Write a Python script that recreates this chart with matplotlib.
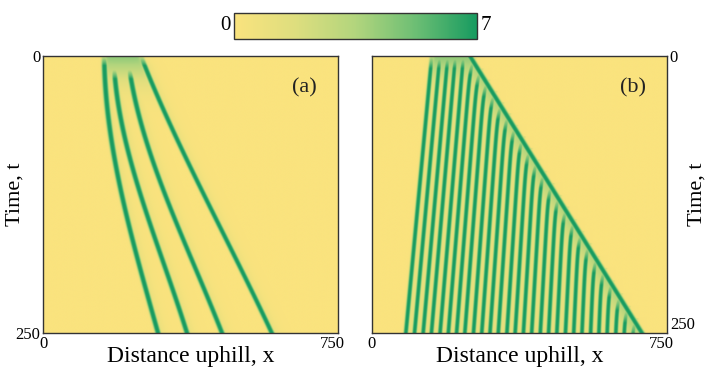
import numpy as np
import matplotlib
matplotlib.use("Agg")
import matplotlib.pyplot as plt
import matplotlib.transforms as mtransforms
from matplotlib.colors import LinearSegmentedColormap

# ---------------- data ----------------
x_range = [0, 750]
t_range = [0, 250]
cbar_range = [0, 7]
panel_labels = ["(a)", "(b)"]
x_label = "Distance uphill, x"
y_label = "Time, t"

# panel (a): four vegetation bands, tracks as (time, position)
a_t1 = [0, 25, 50, 80, 120, 160, 200, 250]
a_x1 = [155, 159, 165, 175, 197, 223, 254, 292]
a_t2 = [12, 25, 50, 80, 120, 160, 200, 250]
a_x2 = [180, 186, 195, 210, 245, 280, 319, 366]
a_t3 = [12, 25, 50, 80, 120, 160, 200, 250]
a_x3 = [218, 228, 243, 263, 305, 351, 397, 455]
a_t4 = [0, 25, 50, 80, 120, 160, 200, 250]
a_x4 = [250, 276, 308, 348, 403, 458, 513, 582]
a_patch = [152, 250]          # initial vegetated patch at t = 0

# panel (b): uphill front, downhill edge, and band positions at t = 250
b_front_t = [0, 250]
b_front_x = [249, 686]
b_back_x = [152, 86]
b_band_x_end = [86, 108, 130, 151, 173, 194, 215, 236, 258, 279, 300, 321,
                343, 364, 385, 406, 428, 449, 470, 492, 513, 534, 556, 577,
                598, 620, 641, 662]
b_band_shift = [66, 22]       # downhill drift over t = 0..250 (first band, last band)

# ---------------- field construction ----------------
xs = np.linspace(x_range[0], x_range[1], 1500)
ts = np.linspace(t_range[0], t_range[1], 600)
X, T = np.meshgrid(xs, ts)
vmax = cbar_range[1]

def band_profile(d, w=8.0, tail=0.3, tail_len=12.0):
    core = np.exp(-np.abs(d / w) ** 3.5)
    tl = np.where(d > 0, tail * np.exp(-d / tail_len), 0.0)
    return np.maximum(core, tl)

def smooth_track(tt, xx):
    c = np.polyfit(tt, xx, 3)
    return np.polyval(c, ts)

# panel (a)
Fa = np.zeros_like(X)
tracks = []
for tt, xx in [(a_t1, a_x1), (a_t2, a_x2), (a_t3, a_x3), (a_t4, a_x4)]:
    xc = smooth_track(tt, xx)[:, None]
    tracks.append(xc)
    age = ts - tt[0]
    amp = np.where(age >= 0, np.clip(0.4 + age / 14.0, 0, 1), 0.0)[:, None]
    Fa = np.maximum(Fa, vmax * amp * band_profile(X - xc))
left_a, right_a = tracks[0], tracks[3]
inside = 1 / (1 + np.exp(-(X - left_a) / 3)) * 1 / (1 + np.exp((X - right_a) / 3))
patch = 4.3 * np.exp(-(ts / 22.0) ** 1.5)[:, None] * inside
Fa = np.maximum(Fa, patch)

# panel (b)
Fb = np.zeros_like(X)
xf = np.interp(ts, b_front_t, b_front_x)[:, None]
xb = np.interp(ts, b_front_t, b_back_x)[:, None]
f0, f1 = b_front_x
bmin, bmax = b_band_x_end[0], b_band_x_end[-1]
for b in b_band_x_end:
    frac = (b - bmin) / (bmax - bmin)
    shift = b_band_shift[0] + (b_band_shift[1] - b_band_shift[0]) * frac
    start_x = b + shift
    te = max((start_x - f0) / ((f1 - f0) + shift) * t_range[1], 0.0)
    xc = (b + shift * (t_range[1] - ts) / t_range[1])[:, None]
    age = (ts - te)[:, None]
    if te > 0:
        ramp = np.where(age >= 0, np.clip(0.3 + age / 22.0, 0, 1), 0.0)
        bend = np.where(age >= 0, 9 * np.exp(-np.maximum(age, 0) / 9.0), 0.0)
    else:
        ramp = np.clip(0.45 + ts / 20.0, 0, 1)[:, None]
        bend = 0.0
    Fb = np.maximum(Fb, vmax * ramp * band_profile(X - xc - bend, w=6.5, tail=0.2, tail_len=9))
# uphill front line
Fb = np.maximum(Fb, vmax * band_profile(X - xf, w=8.5, tail=0.0))
# light green wedge behind the front
behind = 1 / (1 + np.exp(-(xf - X) / 2.0)) * 1 / (1 + np.exp(-(X - xb) / 3.0))
wedge = 4.0 * np.exp(-np.clip(xf - X, 0, None) / 50.0) * behind
Fb = np.maximum(Fb, wedge)
patch_b = 4.3 * np.exp(-(ts / 24.0) ** 1.5)[:, None] * behind
Fb = np.maximum(Fb, patch_b)
Fb = np.maximum(Fb, 1.1 * behind)

# ---------------- figure ----------------
cmap = LinearSegmentedColormap.from_list(
    "veg", ["#FAE37E", "#DEDE7E", "#B2D57D", "#6CBE74", "#179B60"])

plt.rcParams["font.family"] = ["Liberation Serif", "DejaVu Serif"]
fig = plt.figure(figsize=(7.07, 3.69), dpi=100)

W, H = 707, 369
def ax_rect(l, t, r, b):
    return [l / W, 1 - b / H, (r - l) / W, (b - t) / H]

axa = fig.add_axes(ax_rect(43, 56, 338, 333))
axb = fig.add_axes(ax_rect(372, 56, 667, 333))
cax = fig.add_axes(ax_rect(234, 13, 477, 39))

for ax, F, lab, side in [(axa, Fa, panel_labels[0], "left"),
                         (axb, Fb, panel_labels[1], "right")]:
    im = ax.imshow(F, cmap=cmap, vmin=cbar_range[0], vmax=cbar_range[1],
                   extent=[x_range[0], x_range[1], t_range[1], t_range[0]],
                   aspect="auto", interpolation="bilinear")
    ax.set_xlim(x_range)
    ax.set_ylim(t_range[1], t_range[0])
    ax.set_xticks(x_range)
    ax.set_xticklabels([str(v) for v in x_range], fontsize=12)
    ax.set_yticks(t_range)
    ax.set_yticklabels([str(v) for v in t_range], fontsize=12)
    ax.tick_params(length=0, pad=2)
    ax.set_xlabel(x_label, fontsize=17, labelpad=-4)
    ax.set_ylabel(y_label, fontsize=16)
    if side == "right":
        ax.yaxis.tick_right()
        ax.yaxis.set_label_position("right")
        ax.yaxis.set_label_coords(1.07, 0.5)
        ax.yaxis.label.set_rotation(90)
        ax.get_yticklabels()[1].set_va("bottom")
    else:
        ax.yaxis.set_label_coords(-0.062, 0.5)
    for s in ax.spines.values():
        s.set_color("#333333")
        s.set_linewidth(1.0)
    ax.text(0.885, 0.885, lab, transform=ax.transAxes, fontsize=16,
            ha="center", va="center", color="#222222")

# nudge the x tick label 750 slightly left of the corner, as in the reference
for ax in (axa, axb):
    lbl = ax.get_xticklabels()[1]
    lbl.set_transform(lbl.get_transform() +
                      mtransforms.ScaledTranslation(-6 / 100, 0, fig.dpi_scale_trans))

cb = fig.colorbar(im, cax=cax, orientation="horizontal")
cb.set_ticks([])
cb.outline.set_edgecolor("#333333")
cb.outline.set_linewidth(1.0)
cax.text(-0.015, 0.5, str(cbar_range[0]), transform=cax.transAxes,
         ha="right", va="center", fontsize=15)
cax.text(1.015, 0.5, str(cbar_range[1]), transform=cax.transAxes,
         ha="left", va="center", fontsize=15)

fig.savefig("out.png", dpi=100)
